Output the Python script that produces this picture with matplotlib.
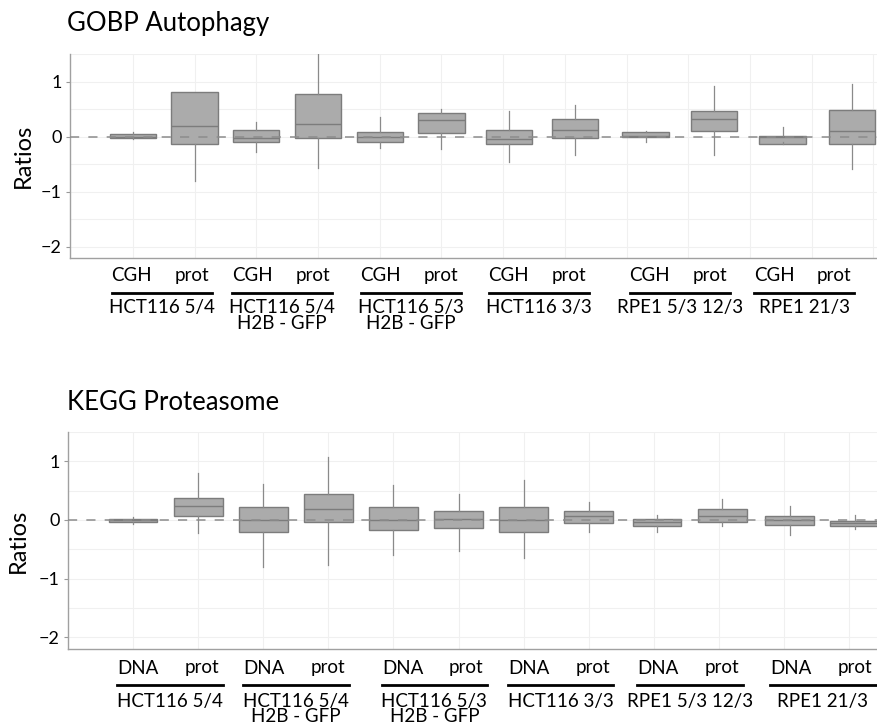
import numpy as np
import matplotlib.pyplot as plt
from matplotlib.lines import Line2D
from matplotlib.transforms import blended_transform_factory

plt.rcParams['font.family'] = ['Lato', 'DejaVu Sans']

# group / condition labels
groups = ['HCT116 5/4', 'HCT116 5/4\nH2B - GFP', 'HCT116 5/3\nH2B - GFP',
          'HCT116 3/3', 'RPE1 5/3 12/3', 'RPE1 21/3']
sub_top = ['CGH', 'prot']
sub_bot = ['DNA', 'prot']

# GOBP Autophagy box stats
auto_med = [0.00, 0.19, -0.02, 0.23, 0.00, 0.30, -0.05, 0.13, 0.01, 0.33, 0.00, 0.11]
auto_q1 = [-0.02, -0.14, -0.09, -0.03, -0.09, 0.07, -0.13, -0.02, 0.00, 0.11, -0.14, -0.13]
auto_q3 = [0.04, 0.81, 0.13, 0.77, 0.09, 0.43, 0.13, 0.33, 0.09, 0.46, 0.02, 0.48]
auto_lo = [-0.05, -0.81, -0.28, -0.56, -0.20, -0.22, -0.45, -0.34, -0.10, -0.34, -0.10, -0.58]
auto_hi = [0.08, 0.81, 0.27, 1.59, 0.36, 0.51, 0.46, 0.58, 0.10, 0.92, 0.17, 0.96]

# KEGG Proteasome box stats
prot_med = [0.00, 0.23, 0.00, 0.18, 0.00, 0.01, 0.00, 0.07, -0.03, 0.06, 0.00, -0.045]
prot_q1 = [-0.03, 0.07, -0.21, -0.03, -0.17, -0.13, -0.21, -0.06, -0.10, -0.04, -0.08, -0.10]
prot_q3 = [0.02, 0.37, 0.22, 0.45, 0.22, 0.16, 0.22, 0.15, 0.01, 0.18, 0.06, -0.02]
prot_lo = [-0.07, -0.23, -0.80, -0.77, -0.60, -0.53, -0.64, -0.21, -0.20, -0.10, -0.25, -0.15]
prot_hi = [0.05, 0.80, 0.61, 1.08, 0.60, 0.45, 0.69, 0.30, 0.085, 0.35, 0.24, 0.085]

# layout (x positions in gridline units)
pos_top = [0, 1, 2, 3, 4, 5, 6.1, 7.17, 8.31, 9.42, 10.53, 11.65]
ctr_top = [0.47, 2.42, 4.5, 6.58, 8.86, 10.88]
pos_bot = [0, 1, 2, 3, 4, 5, 6, 7, 8.05, 9.05, 10.09, 11.09]
ctr_bot = [0.57, 2.5, 4.63, 6.57, 8.56, 10.6]

W, H = 877, 725
fig = plt.figure(figsize=(W / 100, H / 100), dpi=100)


def fy(px):
    return 1 - px / H


def panel(rect, title, title_y, med, q1, q3, lo, hi, pos, ctrs, subs, xlim,
          ngrid, y_sub, y_line, y_grp, ylab_x):
    ax = fig.add_axes(rect)
    stats = [dict(med=m, q1=a, q3=b, whislo=l, whishi=h, fliers=[])
             for m, a, b, l, h in zip(med, q1, q3, lo, hi)]
    ax.bxp(stats, positions=pos, widths=0.75, patch_artist=True, showcaps=False,
           boxprops=dict(facecolor='#ababab', edgecolor='#7c7c7c', linewidth=1.0),
           medianprops=dict(color='#7c7c7c', linewidth=1.0),
           whiskerprops=dict(color='#8a8a8a', linewidth=0.9), manage_ticks=False)
    ax.axhline(0, color='#8c8c8c', lw=1.1, ls=(0, (6, 6)), zorder=5)
    ax.set_xlim(*xlim)
    ax.set_ylim(-2.2, 1.5)
    ax.set_xticks(range(ngrid))
    ax.set_xticklabels([])
    ax.set_yticks([-2, -1, 0, 1])
    ax.set_yticklabels(['\u22122', '\u22121', '0', '1'])
    ax.set_yticks(np.arange(-2, 1.6, 0.5), minor=True)
    ax.grid(True, which='both', color='#f0f0f0', lw=0.8, zorder=0)
    ax.set_axisbelow(True)
    ax.tick_params(axis='x', length=0)
    ax.tick_params(axis='y', which='major', length=3, color='#999999',
                   labelsize=13, pad=3)
    ax.tick_params(axis='y', which='minor', length=0)
    for s in ['top', 'right']:
        ax.spines[s].set_visible(False)
    for s in ['left', 'bottom']:
        ax.spines[s].set_color('#a0a0a0')
        ax.spines[s].set_linewidth(1.0)
    fig.text(ylab_x / W, rect[1] + rect[3] / 2, 'Ratios', rotation=90,
             ha='center', va='center', fontsize=17)
    fig.text(67 / W, fy(title_y), title, ha='left', va='center', fontsize=18.5)

    tr = blended_transform_factory(ax.transData, fig.transFigure)
    for c, g in zip(ctrs, groups):
        ax.text(c - 0.49, fy(y_sub), subs[0], transform=tr, ha='center',
                va='center', fontsize=13.5)
        ax.text(c + 0.49, fy(y_sub), subs[1], transform=tr, ha='center',
                va='center', fontsize=13.5)
        ax.add_line(Line2D([c - 0.81, c + 0.81], [fy(y_line), fy(y_line)],
                           transform=tr, color='black', lw=2.0, clip_on=False))
        for k, part in enumerate(g.split('\n')):
            ax.text(c, fy(y_grp[k]), part, transform=tr, ha='center',
                    va='center', fontsize=13.5)
    return ax


panel([70 / W, fy(258), 807 / W, 204 / H], 'GOBP Autophagy', 23,
      auto_med, auto_q1, auto_q3, auto_lo, auto_hi, pos_top, ctr_top, sub_top,
      (-1.02, 12.06), 13, 276, 293, (307, 324), 23)
panel([68 / W, fy(649), 809 / W, 217 / H], 'KEGG Proteasome', 403,
      prot_med, prot_q1, prot_q3, prot_lo, prot_hi, pos_bot, ctr_bot, sub_bot,
      (-1.0, 11.43), 12, 668, 685, (701, 717), 18)

fig.savefig('out.png', dpi=100)
